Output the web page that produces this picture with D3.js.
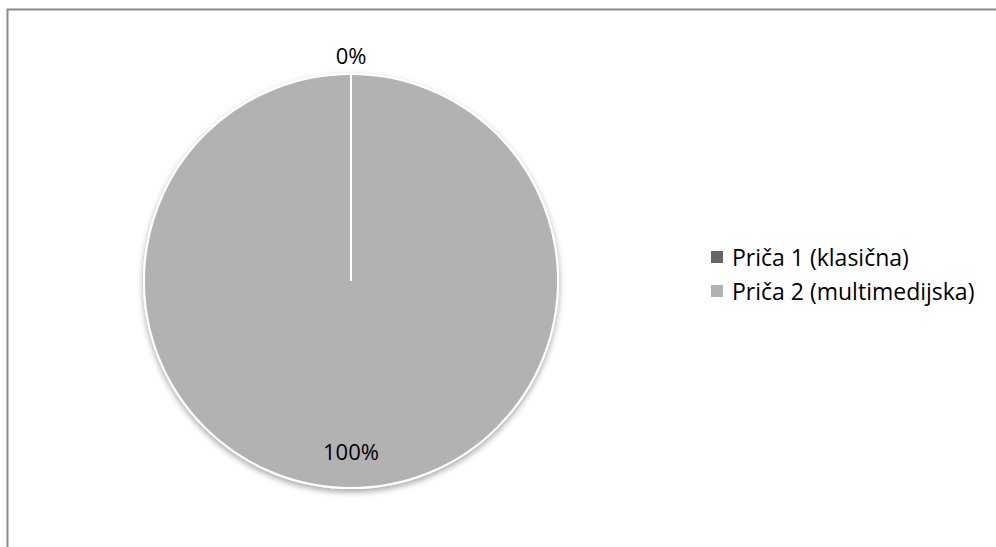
<!DOCTYPE html>
<html><head><meta charset="utf-8">
<script src="https://cdn.jsdelivr.net/npm/d3@7"></script>
<style>html,body{margin:0;padding:0;background:#fff;}svg{display:block;}</style>
</head><body>
<svg id="chart" width="996" height="547"></svg>
<script>
const categories = ["Priča 1 (klasična)", "Priča 2 (multimedijska)"];
const values = [0, 100];
const labels = ["0%", "100%"];
const colors = ["#666666", "#b2b2b2"];

const svg = d3.select("#chart");
const font = "'Open Sans', 'Liberation Sans', sans-serif";

svg.append("path")
  .attr("d", "M7.5,547 L7.5,9.5 L996,9.5")
  .attr("fill", "none").attr("stroke", "#8a8a8a").attr("stroke-width", 2);

const defs = svg.append("defs");
const f = defs.append("filter").attr("id", "sh").attr("x", "-20%").attr("y", "-20%").attr("width", "140%").attr("height", "140%");
f.append("feGaussianBlur").attr("in", "SourceAlpha").attr("stdDeviation", 3);
f.append("feOffset").attr("dx", 0).attr("dy", 3).attr("result", "b");
f.append("feComponentTransfer").append("feFuncA").attr("type", "linear").attr("slope", 0.35);
const m = f.append("feMerge");
m.append("feMergeNode");
m.append("feMergeNode").attr("in", "SourceGraphic");

const cx = 351, cy = 281, r = 207;
const pie = d3.pie().sort(null).value(d => d);
const arcs = pie(values);
const arc = d3.arc().innerRadius(0).outerRadius(r);

const g = svg.append("g").attr("transform", `translate(${cx},${cy})`);
g.append("g").attr("filter", "url(#sh)").selectAll("path").data(arcs).join("path")
  .attr("d", arc).attr("fill", (d, i) => colors[i])
  .attr("stroke", "#fff").attr("stroke-width", 2).attr("stroke-linejoin", "round");

// slice boundaries (visible even for zero-size slices)
g.selectAll("line.sep").data(arcs).join("line")
  .attr("class", "sep")
  .attr("x1", 0).attr("y1", 0)
  .attr("x2", d => r * Math.sin(d.startAngle))
  .attr("y2", d => -r * Math.cos(d.startAngle))
  .attr("stroke", "#fff").attr("stroke-width", 2);

// labels
g.selectAll("text.lbl").data(arcs).join("text")
  .attr("class", "lbl")
  .attr("x", d => d.value === 0 ? 0 : d3.arc().innerRadius(r * 0.82).outerRadius(r * 0.82).centroid(d)[0])
  .attr("y", d => d.value === 0 ? -r - 19 : 170)
  .attr("text-anchor", "middle").attr("dominant-baseline", "central")
  .attr("font-family", font).attr("font-size", 22).attr("fill", "#000")
  .text((d, i) => labels[i]);

// legend
const leg = svg.append("g").attr("transform", "translate(711,257)");
const items = leg.selectAll("g").data(categories).join("g")
  .attr("transform", (d, i) => `translate(0,${i * 34})`);
items.append("rect").attr("x", 0).attr("y", -6).attr("width", 12).attr("height", 12)
  .attr("fill", (d, i) => colors[i]);
items.append("text").attr("x", 21).attr("y", 0).attr("dominant-baseline", "central")
  .attr("font-family", font).attr("font-size", 23).attr("fill", "#000").text(d => d);
</script>
</body></html>
